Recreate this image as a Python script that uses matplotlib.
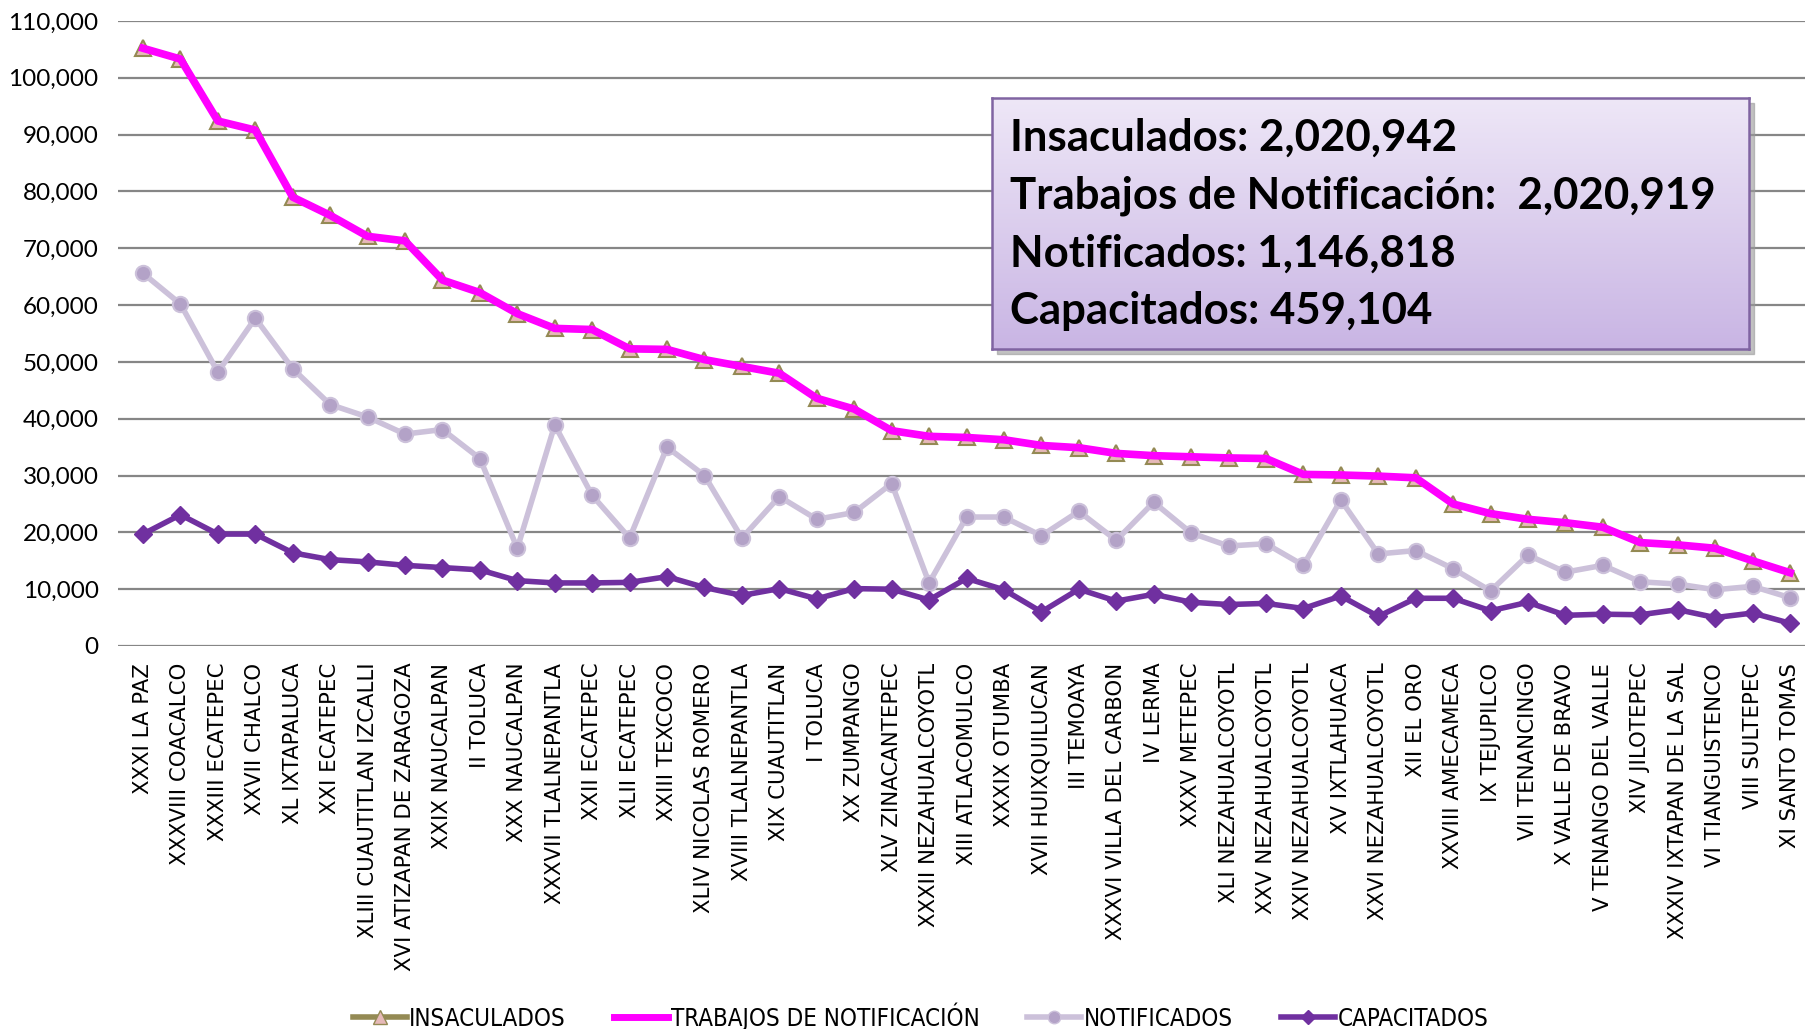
import numpy as np
import matplotlib
matplotlib.use('Agg')
import matplotlib.pyplot as plt
from matplotlib.lines import Line2D
from matplotlib.ticker import FuncFormatter, MultipleLocator
from matplotlib.patches import Rectangle

distritos = [
    'XXXI LA PAZ', 'XXXVIII COACALCO', 'XXXIII ECATEPEC', 'XXVII CHALCO',
    'XL IXTAPALUCA', 'XXI ECATEPEC', 'XLIII CUAUTITLAN IZCALLI',
    'XVI ATIZAPAN DE ZARAGOZA', 'XXIX NAUCALPAN', 'II TOLUCA', 'XXX NAUCALPAN',
    'XXXVII TLALNEPANTLA', 'XXII ECATEPEC', 'XLII ECATEPEC', 'XXIII TEXCOCO',
    'XLIV NICOLAS ROMERO', 'XVIII TLALNEPANTLA', 'XIX CUAUTITLAN', 'I TOLUCA',
    'XX ZUMPANGO', 'XLV ZINACANTEPEC', 'XXXII NEZAHUALCOYOTL',
    'XIII ATLACOMULCO', 'XXXIX OTUMBA', 'XVII HUIXQUILUCAN', 'III TEMOAYA',
    'XXXVI VILLA DEL CARBON', 'IV LERMA', 'XXXV METEPEC',
    'XLI NEZAHUALCOYOTL', 'XXV NEZAHUALCOYOTL', 'XXIV NEZAHUALCOYOTL',
    'XV IXTLAHUACA', 'XXVI NEZAHUALCOYOTL', 'XII EL ORO', 'XXVIII AMECAMECA',
    'IX TEJUPILCO', 'VII TENANCINGO', 'X VALLE DE BRAVO',
    'V TENANGO DEL VALLE', 'XIV JILOTEPEC', 'XXXIV IXTAPAN DE LA SAL',
    'VI TIANGUISTENCO', 'VIII SULTEPEC', 'XI SANTO TOMAS',
]

insaculados = [
    105200, 103300, 92400, 90800, 79000, 75800, 72100, 71300, 64400, 62200,
    58500, 55900, 55700, 52300, 52200, 50400, 49200, 48000, 43600, 41700,
    37900, 36900, 36700, 36300, 35300, 34900, 33900, 33500, 33300, 33100,
    33000, 30200, 30100, 29900, 29600, 25000, 23300, 22300, 21700, 20900,
    18200, 17800, 17200, 15000, 12900,
]

trabajos = [
    105200, 103300, 92400, 90800, 79000, 75800, 72100, 71300, 64400, 62200,
    58500, 55900, 55700, 52300, 52200, 50400, 49200, 48000, 43600, 41700,
    37900, 36900, 36700, 36300, 35300, 34900, 33900, 33500, 33300, 33100,
    33000, 30200, 30100, 29900, 29600, 25000, 23300, 22300, 21700, 20900,
    18200, 17800, 17200, 15000, 12900,
]

notificados = [
    65600, 60200, 48200, 57700, 48800, 42500, 40300, 37300, 38100, 33000,
    17200, 38900, 26500, 19000, 35000, 30000, 19000, 26300, 22300, 23500,
    28600, 11100, 22700, 22700, 19400, 23700, 18600, 25300, 19900, 17600,
    18000, 14200, 25700, 16200, 16800, 13600, 9700, 16000, 13000, 14200,
    11300, 10900, 9900, 10500, 8500,
]

capacitados = [
    19700, 23100, 19700, 19700, 16400, 15200, 14800, 14200, 13800, 13400,
    11500, 11100, 11100, 11200, 12200, 10300, 8900, 10100, 8300, 10100,
    10000, 8100, 11900, 9900, 6000, 10000, 7900, 9100, 7700, 7300,
    7500, 6600, 8800, 5200, 8400, 8400, 6200, 7700, 5400, 5600,
    5500, 6400, 5000, 5800, 4000,
]

resumen = [
    'Insaculados: 2,020,942',
    'Trabajos de Notificación:  2,020,919',
    'Notificados: 1,146,818',
    'Capacitados: 459,104',
]

OLIVE = '#948a54'
PINK = '#e6b9b8'
MAGENTA = '#ff00ff'
LAV_LINE = '#ccc1da'
LAV_MARK = '#b3a2c7'
PURPLE = '#7030a0'

fig = plt.figure(figsize=(18.05, 10.29), dpi=100)
ax = fig.add_axes([118 / 1805, 1 - 646 / 1029, 1 - 118 / 1805, (646 - 21) / 1029])

x = np.arange(len(distritos))
ax.plot(x, insaculados, color=OLIVE, lw=4, marker='^', ms=12,
        mfc=PINK, mec=OLIVE, mew=1.5, zorder=3, clip_on=False)
ax.plot(x, trabajos, color=MAGENTA, lw=5.5, zorder=4, clip_on=False)
ax.plot(x, notificados, color=LAV_LINE, lw=4, marker='o', ms=11,
        mfc=LAV_MARK, mec=LAV_LINE, mew=1.5, zorder=3, clip_on=False)
ax.plot(x, capacitados, color=PURPLE, lw=4, marker='D', ms=9,
        mfc=PURPLE, mec=PURPLE, zorder=5, clip_on=False)

ax.set_xlim(-0.668, 44.40)
ax.set_ylim(0, 110000)
ax.yaxis.set_major_locator(MultipleLocator(10000))
ax.yaxis.set_major_formatter(FuncFormatter(lambda v, p: f'{int(v):,}'))
ax.grid(axis='y', color='#868686', lw=1.6)
ax.set_axisbelow(True)
for s in ax.spines.values():
    s.set_visible(False)
ax.tick_params(length=0)
ax.tick_params(axis='y', pad=14, labelsize=17.5)
for lbl in ax.get_yticklabels():
    lbl.set_family('Lato')
ax.set_xticks(x)
ax.set_xticklabels(distritos, rotation=90, fontsize=15.3, family='DejaVu Sans',
                   va='top', ha='center')
ax.tick_params(axis='x', pad=12)

# cuadro de totales
bx, by, bw, bh = 992 / 1805, 1 - 349 / 1029, (1749 - 992) / 1805, (349 - 98) / 1029
fig.patches.append(Rectangle((bx + 0.003, by - 0.005), bw, bh, transform=fig.transFigure,
                             color='#999999', alpha=0.6, zorder=5))
bax = fig.add_axes([bx, by, bw, bh], zorder=6)
grad = np.linspace(0, 1, 256).reshape(-1, 1)
top = np.array([0xee, 0xe7, 0xf7]) / 255
bot = np.array([0xc9, 0xb5, 0xe4]) / 255
img = top[None, None, :] * (1 - grad[:, :, None]) + bot[None, None, :] * grad[:, :, None]
bax.imshow(img, aspect='auto', extent=[0, 1, 0, 1])
bax.set_xticks([])
bax.set_yticks([])
for s in bax.spines.values():
    s.set_color('#8064a2')
    s.set_linewidth(1.8)
for i, t in enumerate(resumen):
    bax.text(0.024, 0.84 - i * 0.23, t, transform=bax.transAxes, fontsize=31.5,
             fontweight='bold', family='Lato', va='center', ha='left')

handles = [
    Line2D([], [], color=OLIVE, lw=4, marker='^', ms=10, mfc=PINK, mec=OLIVE),
    Line2D([], [], color=MAGENTA, lw=5),
    Line2D([], [], color=LAV_LINE, lw=4, marker='o', ms=9, mfc=LAV_MARK, mec=LAV_LINE),
    Line2D([], [], color=PURPLE, lw=4, marker='D', ms=7, mfc=PURPLE, mec=PURPLE),
]
fig.legend(handles, ['INSACULADOS', 'TRABAJOS DE NOTIFICACIÓN', 'NOTIFICADOS', 'CAPACITADOS'],
           loc='center', bbox_to_anchor=(0.51, 0.012), ncol=4, frameon=False,
           prop={'family': 'DejaVu Sans', 'size': 17.3, 'stretch': 'condensed'},
           handlelength=2.25, handletextpad=0.1, columnspacing=2.0)

fig.savefig('out.png', dpi=100)
